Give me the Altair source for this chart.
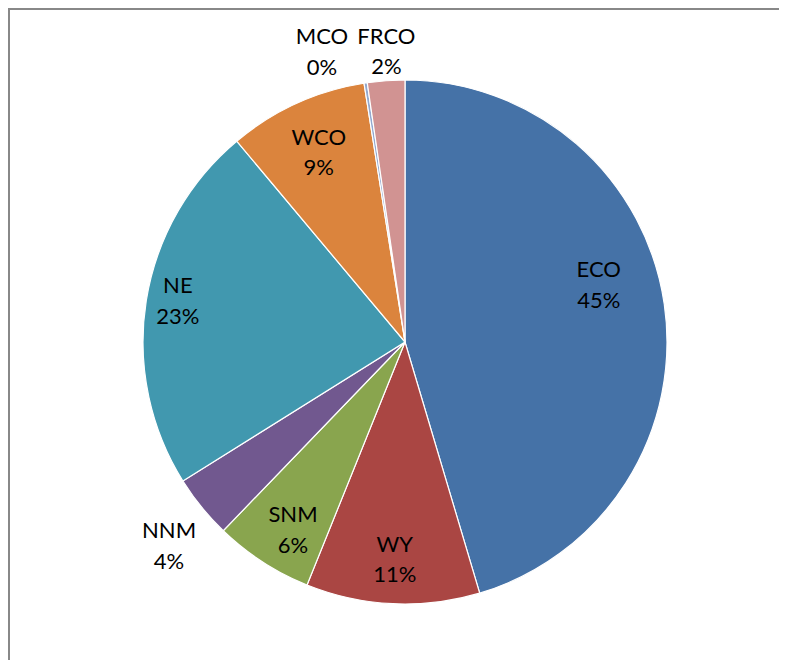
import altair as alt
import pandas as pd

categories = ["ECO", "WY", "SNM", "NNM", "NE", "WCO", "MCO", "FRCO"]
values = [45.4, 10.7, 6.1, 3.9, 22.8, 8.6, 0.2, 2.3]
colors = ["#4572A7", "#AA4643", "#89A54E", "#71588F", "#4198AF", "#DB843D", "#93A9CF", "#D19392"]

df = pd.DataFrame({"cat": categories, "value": values, "i": list(range(len(categories)))})

CX, CY = 397, 334
R = 262
FONT = "Lato"

base = alt.Chart(df).transform_joinaggregate(
    total="sum(value)"
).transform_calculate(
    lab="[datum.cat, format(round(datum.value / datum.total * 100), 'd') + '%']"
)

theta = alt.Theta("value:Q", stack=True)
order = alt.Order("i:Q")

arcs = base.mark_arc(radius=R, stroke="white", strokeWidth=1.2).encode(
    theta=theta,
    order=order,
    color=alt.Color("cat:N", scale=alt.Scale(domain=categories, range=colors), legend=None),
    x=alt.value(CX),
    y=alt.value(CY),
)


def text_layer(names, radius, dx=0, dy=0):
    cond = " || ".join([f"datum.cat == '{n}'" for n in names])
    return base.transform_calculate(
        t=f"({cond}) ? datum.lab : ''"
    ).mark_text(
        radius=radius, dx=dx, dy=dy - 15, font=FONT, fontSize=22, color="black",
        lineHeight=30.5, baseline="middle", align="center"
    ).encode(
        theta=theta,
        order=order,
        text=alt.Text("t:N"),
        x=alt.value(CX),
        y=alt.value(CY),
    )


layers = [
    arcs,
    text_layer(["WY"], 218),
    text_layer(["SNM"], 217, dx=6, dy=6),
    text_layer(["NE"], 230, dy=-5),
    text_layer(["WCO"], 208),
    text_layer(["NNM"], 300, dx=-3, dy=15),
    text_layer(["FRCO"], 300, dx=3, dy=9),
    text_layer(["ECO"], 212, dx=-16, dy=-26),
    text_layer(["MCO"], 300, dx=-38, dy=7),
]

frame_top = alt.Chart(df).mark_rule(color="#888888", strokeWidth=2).encode(
    x=alt.value(0), x2=alt.value(771), y=alt.value(1)
)
frame_left = alt.Chart(df).mark_rule(color="#888888", strokeWidth=2).encode(
    x=alt.value(1), y=alt.value(0), y2=alt.value(660)
)

chart = alt.layer(*layers, frame_top, frame_left).properties(
    width=771, height=652, padding=0, autosize="none"
).configure_view(stroke=None)

chart.save("out.html", embed_options={"renderer": "svg", "actions": False})
